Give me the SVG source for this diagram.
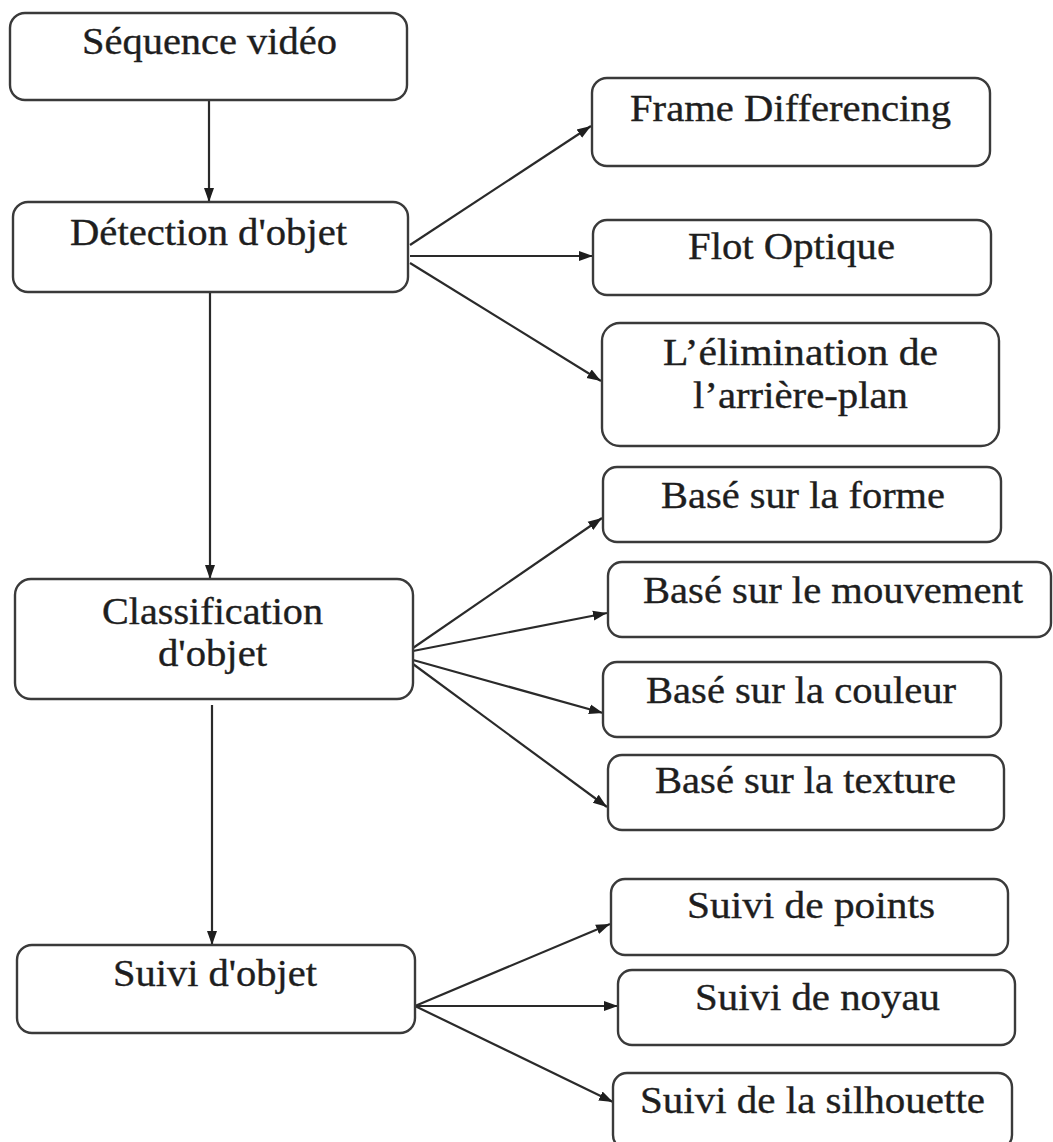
<svg xmlns="http://www.w3.org/2000/svg" width="1053" height="1142" viewBox="0 0 1053 1142">
  <defs>
    <marker id="arrow" markerUnits="userSpaceOnUse" markerWidth="16" markerHeight="12" refX="14" refY="6" orient="auto">
      <path d="M0,1 L14,6 L0,11 z" fill="#1e1e1e"/>
    </marker>
    <style>
      .box { fill: #fff; stroke: #3a3a3a; stroke-width: 2.4; }
      .lbl { font-family: "Liberation Serif", "Times New Roman", serif; font-size: 37px; fill: #1e1e1e; stroke: #1e1e1e; stroke-width: 0.35; text-anchor: middle; }
      .edge { stroke: #2a2a2a; stroke-width: 2.2; fill: none; marker-end: url(#arrow); }
    </style>
  </defs>
  <rect width="1053" height="1142" fill="#fff"/>

  <!-- connectors -->
  <g id="connectors">
    <line class="edge" x1="209" y1="100" x2="209" y2="202"/>
    <line class="edge" x1="210" y1="292" x2="210" y2="579"/>
    <line class="edge" x1="212" y1="705" x2="212" y2="945"/>

    <line class="edge" x1="410" y1="245" x2="591" y2="126"/>
    <line class="edge" x1="410" y1="256" x2="593" y2="256"/>
    <line class="edge" x1="410" y1="263" x2="601" y2="381"/>

    <line class="edge" x1="413" y1="648" x2="602" y2="518"/>
    <line class="edge" x1="413" y1="651" x2="607" y2="613"/>
    <line class="edge" x1="413" y1="660" x2="603" y2="713"/>
    <line class="edge" x1="413" y1="664" x2="607" y2="807"/>

    <line class="edge" x1="415" y1="1006" x2="610" y2="924"/>
    <line class="edge" x1="415" y1="1006" x2="618" y2="1006"/>
    <line class="edge" x1="415" y1="1006" x2="613" y2="1102"/>
  </g>

  <!-- pipeline stages -->
  <g id="sequence-video">
    <rect class="box" x="10" y="13" width="397" height="87" rx="15"/>
    <text class="lbl" x="209.5" y="54" textLength="255" lengthAdjust="spacingAndGlyphs">Séquence vidéo</text>
  </g>
  <g id="detection-objet">
    <rect class="box" x="13" y="202" width="395" height="90" rx="15"/>
    <text class="lbl" x="208.5" y="245" textLength="277" lengthAdjust="spacingAndGlyphs">Détection d'objet</text>
  </g>
  <g id="classification-objet">
    <rect class="box" x="15" y="579" width="398" height="120" rx="16"/>
    <text class="lbl" x="212.5" y="624" textLength="221" lengthAdjust="spacingAndGlyphs">Classification</text>
    <text class="lbl" x="212.5" y="666" textLength="109" lengthAdjust="spacingAndGlyphs">d'objet</text>
  </g>
  <g id="suivi-objet">
    <rect class="box" x="17" y="945" width="398" height="88" rx="15"/>
    <text class="lbl" x="215" y="986" textLength="204" lengthAdjust="spacingAndGlyphs">Suivi d'objet</text>
  </g>

  <!-- detection methods -->
  <g id="frame-differencing">
    <rect class="box" x="592" y="78" width="398" height="88" rx="15"/>
    <text class="lbl" x="790.5" y="121" textLength="321" lengthAdjust="spacingAndGlyphs">Frame Differencing</text>
  </g>
  <g id="flot-optique">
    <rect class="box" x="593" y="220" width="398" height="75" rx="14"/>
    <text class="lbl" x="791.5" y="259" textLength="207" lengthAdjust="spacingAndGlyphs">Flot Optique</text>
  </g>
  <g id="elimination-arriere-plan">
    <rect class="box" x="602" y="323" width="397" height="123" rx="18"/>
    <text class="lbl" x="800.5" y="365" textLength="275" lengthAdjust="spacingAndGlyphs">L’élimination de</text>
    <text class="lbl" x="800.5" y="408" textLength="215" lengthAdjust="spacingAndGlyphs">l’arrière-plan</text>
  </g>

  <!-- classification methods -->
  <g id="base-forme">
    <rect class="box" x="603" y="467" width="398" height="75" rx="14"/>
    <text class="lbl" x="803" y="508" textLength="284" lengthAdjust="spacingAndGlyphs">Basé sur la forme</text>
  </g>
  <g id="base-mouvement">
    <rect class="box" x="608" y="562" width="443" height="75" rx="14"/>
    <text class="lbl" x="833" y="603" textLength="380" lengthAdjust="spacingAndGlyphs">Basé sur le mouvement</text>
  </g>
  <g id="base-couleur">
    <rect class="box" x="603" y="662" width="398" height="75" rx="14"/>
    <text class="lbl" x="801" y="703" textLength="310" lengthAdjust="spacingAndGlyphs">Basé sur la couleur</text>
  </g>
  <g id="base-texture">
    <rect class="box" x="608" y="755" width="396" height="75" rx="14"/>
    <text class="lbl" x="805.5" y="793" textLength="301" lengthAdjust="spacingAndGlyphs">Basé sur la texture</text>
  </g>

  <!-- tracking methods -->
  <g id="suivi-points">
    <rect class="box" x="611" y="879" width="397" height="76" rx="14"/>
    <text class="lbl" x="811" y="918" textLength="248" lengthAdjust="spacingAndGlyphs">Suivi de points</text>
  </g>
  <g id="suivi-noyau">
    <rect class="box" x="618" y="970" width="397" height="75" rx="14"/>
    <text class="lbl" x="817.5" y="1010" textLength="245" lengthAdjust="spacingAndGlyphs">Suivi de noyau</text>
  </g>
  <g id="suivi-silhouette">
    <rect class="box" x="613" y="1073" width="399" height="76" rx="14"/>
    <text class="lbl" x="812.5" y="1113" textLength="345" lengthAdjust="spacingAndGlyphs">Suivi de la silhouette</text>
  </g>
</svg>
